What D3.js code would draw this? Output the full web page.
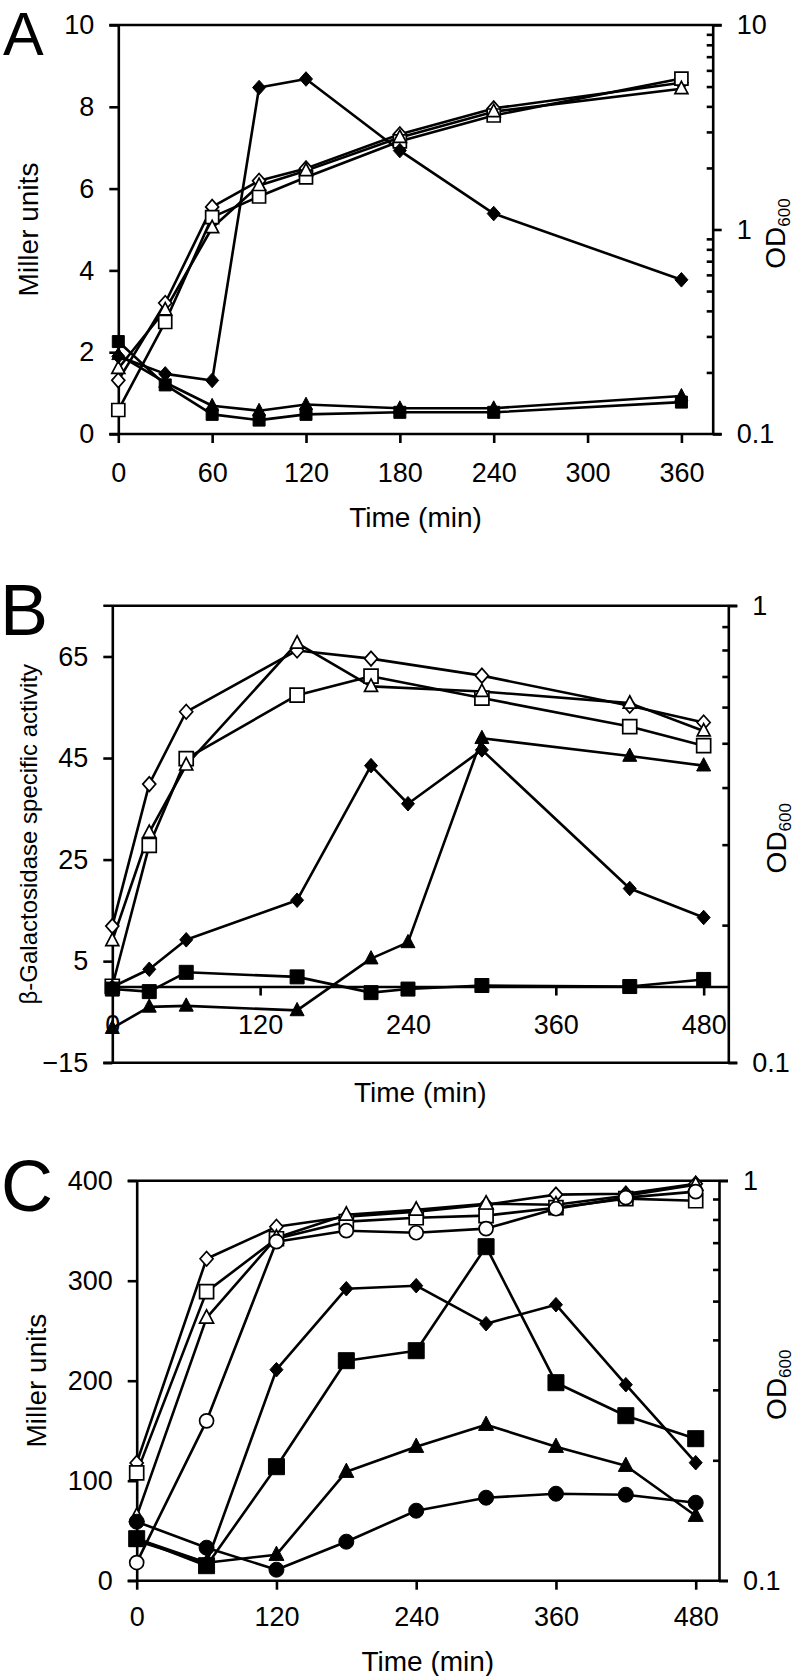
<!DOCTYPE html>
<html><head><meta charset="utf-8">
<script src="https://cdn.jsdelivr.net/npm/d3@7"></script>
<style>
body{margin:0;background:#fff}
svg{display:block}
text{font-family:"Liberation Sans",Arial,Helvetica,sans-serif;fill:#000}
</style>
</head><body>
<svg id="chart" width="800" height="1676"></svg>
<script>
// ---------------- Panel A ----------------
const timeA = [0, 30, 60, 90, 120, 180, 240, 360];
const aMillerDiamond  = [1.90, 1.47, 1.31, 8.47, 8.68, 6.93, 5.39, 3.77];
const aMillerSquare   = [2.26, 1.20, 0.48, 0.34, 0.48, 0.53, 0.53, 0.78];
const aMillerTriangle = [1.94, 1.26, 0.69, 0.57, 0.72, 0.63, 0.63, 0.93];
const aODDiamond  = [0.183, 0.437, 1.29, 1.73, 1.99, 2.92, 3.91, 5.22];
const aODSquare   = [0.131, 0.353, 1.15, 1.45, 1.80, 2.70, 3.61, 5.47];
const aODTriangle = [0.209, 0.404, 1.02, 1.64, 1.94, 2.82, 3.77, 4.88];
const aXTicks = [0, 60, 120, 180, 240, 300, 360];
const aYTicks = [0, 2, 4, 6, 8, 10];
const aODTicks = [0.1, 1, 10];

// ---------------- Panel B ----------------
const timeB = [0, 30, 60, 150, 210, 240, 300, 420, 480];
const timeBOpen = [0, 30, 60, 150, 210, 300, 420, 480];
const bActDiamond  = [-0.1, 3.4, 9.2, 17.0, 43.5, 36.0, 46.6, 19.3, 13.6];
const bActTriangle = [-8.2, -4.0, -3.8, -4.7, 5.5, 8.7, 48.9, 45.4, 43.5];
const bActSquare   = [-0.5, -1.0, 2.8, 1.9, -1.2, -0.5, 0.2, 0.0, 1.4];
const bODDiamond  = [0.199, 0.407, 0.586, 0.798, 0.766, 0.703, 0.604, 0.555];
const bODSquare   = [0.147, 0.299, 0.463, 0.637, 0.701, 0.628, 0.544, 0.494];
const bODTriangle = [0.185, 0.319, 0.448, 0.828, 0.666, 0.649, 0.612, 0.532];
const bXTicks = [0, 120, 240, 360, 480];
const bYTicks = [-15, 5, 25, 45, 65];
const bODTicks = [0.1, 1];

// ---------------- Panel C ----------------
const timeC = [0, 60, 120, 180, 240, 300, 360, 420, 480];
const cMillerDiamond  = [42, 18, 211, 292, 295, 257, 276, 196, 118];
const cMillerSquare   = [42, 15, 114, 220, 230, 334, 198, 165, 142];
const cMillerTriangle = [40, 18, 26, 109, 134, 156, 134, 115, 65];
const cMillerCircle   = [59, 33, 11, 39, 70, 83, 87, 86, 78];
const cODDiamond  = [0.197, 0.638, 0.767, 0.813, 0.837, 0.871, 0.923, 0.928, 0.983];
const cODSquare   = [0.186, 0.528, 0.716, 0.790, 0.808, 0.818, 0.856, 0.902, 0.891];
const cODTriangle = [0.145, 0.454, 0.720, 0.822, 0.846, 0.876, 0.871, 0.917, 0.977];
const cODCircle   = [0.111, 0.251, 0.704, 0.750, 0.741, 0.759, 0.851, 0.907, 0.939];
const cXTicks = [0, 120, 240, 360, 480];
const cYTicks = [0, 100, 200, 300, 400];
const cODTicks = [0.1, 1];

// ---------------- drawing ----------------
const svg = d3.select('#chart');
const FONT = 27;

const shapes = {
  diamond: { draw(ctx, size) { const w = Math.sqrt(size) / 2, h = w * 1.12;
    ctx.moveTo(0, -h); ctx.lineTo(w, 0); ctx.lineTo(0, h); ctx.lineTo(-w, 0); ctx.closePath(); } },
  square: { draw(ctx, size) { const w = Math.sqrt(size) / 2;
    ctx.rect(-w, -w, 2 * w, 2 * w); } },
  triangle: { draw(ctx, size) { const w = Math.sqrt(size) / 2, h = w * 1.9;
    ctx.moveTo(0, -h * 0.6); ctx.lineTo(w, h * 0.4); ctx.lineTo(-w, h * 0.4); ctx.closePath(); } },
  circle: { draw(ctx, size) { const r = Math.sqrt(size) / 2;
    ctx.moveTo(r, 0); ctx.arc(0, 0, r, 0, 2 * Math.PI); } }
};

function styleAxis(sel) {
  sel.selectAll('path.domain').attr('stroke', '#000').attr('stroke-width', 2.6);
  sel.selectAll('.tick line').attr('stroke', '#000').attr('stroke-width', 2.6);
  sel.selectAll('.tick text').attr('font-size', FONT).attr('fill', '#000')
     .attr('font-family', '"Liberation Sans",Arial,sans-serif');
}

function panel(cfg) {
  const g = svg.append('g');
  const x = d3.scaleLinear().domain(cfg.xDomain).range([cfg.l, cfg.r]);
  const yL = d3.scaleLinear().domain(cfg.yDomain).range([cfg.b, cfg.t]);
  const yR = d3.scaleLog().domain(cfg.odDomain).range([cfg.b, cfg.t]);

  // frame lines (top and bottom), extending as outer ticks
  g.append('line').attr('x1', cfg.l - 9).attr('x2', cfg.r + 9).attr('y1', cfg.t).attr('y2', cfg.t)
    .attr('stroke', '#000').attr('stroke-width', 2.6);
  g.append('line').attr('x1', cfg.l - 9).attr('x2', cfg.r + 9).attr('y1', cfg.b).attr('y2', cfg.b)
    .attr('stroke', '#000').attr('stroke-width', 2.6);

  // left axis
  const la = g.append('g').attr('transform', `translate(${cfg.l},0)`)
    .call(d3.axisLeft(yL).tickValues(cfg.yTicks).tickSize(9).tickSizeOuter(0).tickPadding(15)
      .tickFormat(d3.format('d')));
  styleAxis(la);

  // right axis: minor ticks inward, major labelled
  const minors = [];
  const lo = Math.log10(cfg.odDomain[0]), hi = Math.log10(cfg.odDomain[1]);
  for (let e = Math.round(lo); e < Math.round(hi); e++) {
    for (let k = 2; k <= 9; k++) minors.push(k * Math.pow(10, e));
  }
  const rmin = g.append('g').attr('transform', `translate(${cfg.r},0)`)
    .call(d3.axisRight(yR).tickValues(minors).tickSize(-6).tickSizeOuter(0).tickFormat(''));
  styleAxis(rmin);
  const rmaj = g.append('g').attr('transform', `translate(${cfg.r},0)`)
    .call(d3.axisRight(yR).tickValues(cfg.odTicks).tickSize(9).tickSizeOuter(0).tickPadding(15)
      .tickFormat(d => d < 1 ? d3.format('.1f')(d) : d3.format('d')(d)));
  styleAxis(rmaj);
  rmaj.select('path.domain').remove();

  // x axis
  const xAxisY = cfg.xAtZero ? yL(0) : cfg.b;
  const xa = g.append('g').attr('transform', `translate(0,${xAxisY})`)
    .call(d3.axisBottom(x).tickValues(cfg.xTicks).tickSize(9).tickSizeOuter(0).tickPadding(cfg.xPad));
  styleAxis(xa);
  if (!cfg.xAtZero) xa.select('path.domain').remove();

  // titles
  g.append('text').attr('x', cfg.letterX).attr('y', cfg.letterY).attr('font-size', cfg.letterSize)
    .text(cfg.letter);
  g.append('text').attr('text-anchor', 'middle').attr('x', (cfg.l + cfg.r) / 2).attr('y', cfg.xTitleY)
    .attr('font-size', 28).text('Time (min)');
  g.append('text').attr('text-anchor', 'middle')
    .attr('transform', `translate(${cfg.yTitleX},${(cfg.t + cfg.b) / 2}) rotate(-90)`)
    .attr('font-size', cfg.yTitleSize).text(cfg.yTitle);
  const od = g.append('text').attr('text-anchor', 'middle')
    .attr('transform', `translate(${cfg.odTitleX},${(cfg.t + cfg.b) / 2 + 4}) rotate(-90)`)
    .attr('font-size', 28);
  od.append('tspan').text('OD');
  od.append('tspan').attr('font-size', 17).attr('dy', 5).text('600');

  // series
  const lineG = g.append('g'), markG = g.append('g');
  cfg.series.forEach(s => {
    const yS = s.axis === 'R' ? yR : yL;
    const pts = s.t.map((t, i) => [x(t), yS(s.v[i])]);
    lineG.append('path').attr('d', d3.line()(pts)).attr('fill', 'none')
      .attr('stroke', '#000').attr('stroke-width', 2.6).attr('stroke-linejoin', 'round');
    const sym = d3.symbol().type(shapes[s.shape]).size(s.size * s.size);
    markG.selectAll(null).data(pts).join('path')
      .attr('transform', d => `translate(${d[0]},${d[1]})`)
      .attr('d', sym)
      .attr('fill', s.filled ? '#000' : '#fff')
      .attr('stroke', '#000').attr('stroke-width', s.filled ? 1 : 1.7);
  });
}

panel({
  l: 118.3, r: 712.7, t: 25, b: 434,
  xDomain: [0, 380], yDomain: [0, 10], odDomain: [0.1, 10],
  xTicks: aXTicks, yTicks: aYTicks, odTicks: aODTicks, xPad: 20,
  letter: 'A', letterX: 3, letterY: 55, letterSize: 61,
  xTitleY: 527, yTitle: 'Miller units', yTitleX: 38, yTitleSize: 28, odTitleX: 785,
  series: [
    { t: timeA, v: aODDiamond, axis: 'R', shape: 'diamond', filled: false, size: 13 },
    { t: timeA, v: aODSquare, axis: 'R', shape: 'square', filled: false, size: 13 },
    { t: timeA, v: aODTriangle, axis: 'R', shape: 'triangle', filled: false, size: 13 },
    { t: timeA, v: aMillerSquare, axis: 'L', shape: 'square', filled: true, size: 12 },
    { t: timeA, v: aMillerTriangle, axis: 'L', shape: 'triangle', filled: true, size: 13 },
    { t: timeA, v: aMillerDiamond, axis: 'L', shape: 'diamond', filled: true, size: 13 }
  ]
});

panel({
  l: 112.3, r: 728.3, t: 605.7, b: 1062.7, xAtZero: true,
  xDomain: [0, 500], yDomain: [-15, 75], odDomain: [0.1, 1],
  xTicks: bXTicks, yTicks: bYTicks, odTicks: bODTicks, xPad: 19,
  letter: 'B', letterX: 0, letterY: 635, letterSize: 72,
  xTitleY: 1102, yTitle: 'β-Galactosidase specific activity', yTitleX: 37, yTitleSize: 24, odTitleX: 786,
  series: [
    { t: timeBOpen, v: bODDiamond, axis: 'R', shape: 'diamond', filled: false, size: 13 },
    { t: timeBOpen, v: bODSquare, axis: 'R', shape: 'square', filled: false, size: 14 },
    { t: timeBOpen, v: bODTriangle, axis: 'R', shape: 'triangle', filled: false, size: 13 },
    { t: timeB, v: bActSquare, axis: 'L', shape: 'square', filled: true, size: 14 },
    { t: timeB, v: bActTriangle, axis: 'L', shape: 'triangle', filled: true, size: 14 },
    { t: timeB, v: bActDiamond, axis: 'L', shape: 'diamond', filled: true, size: 13 }
  ]
});

panel({
  l: 136.7, r: 719, t: 1180.7, b: 1580.7,
  xDomain: [0, 500], yDomain: [0, 400], odDomain: [0.1, 1],
  xTicks: cXTicks, yTicks: cYTicks, odTicks: cODTicks, xPad: 17,
  letter: 'C', letterX: 1, letterY: 1211, letterSize: 72,
  xTitleY: 1671, yTitle: 'Miller units', yTitleX: 46, yTitleSize: 28, odTitleX: 786,
  series: [
    { t: timeC, v: cODDiamond, axis: 'R', shape: 'diamond', filled: false, size: 13 },
    { t: timeC, v: cODSquare, axis: 'R', shape: 'square', filled: false, size: 14 },
    { t: timeC, v: cODTriangle, axis: 'R', shape: 'triangle', filled: false, size: 14 },
    { t: timeC, v: cODCircle, axis: 'R', shape: 'circle', filled: false, size: 14 },
    { t: timeC, v: cMillerTriangle, axis: 'L', shape: 'triangle', filled: true, size: 15 },
    { t: timeC, v: cMillerCircle, axis: 'L', shape: 'circle', filled: true, size: 15 },
    { t: timeC, v: cMillerSquare, axis: 'L', shape: 'square', filled: true, size: 16 },
    { t: timeC, v: cMillerDiamond, axis: 'L', shape: 'diamond', filled: true, size: 13 }
  ]
});
</script>
</body></html>
